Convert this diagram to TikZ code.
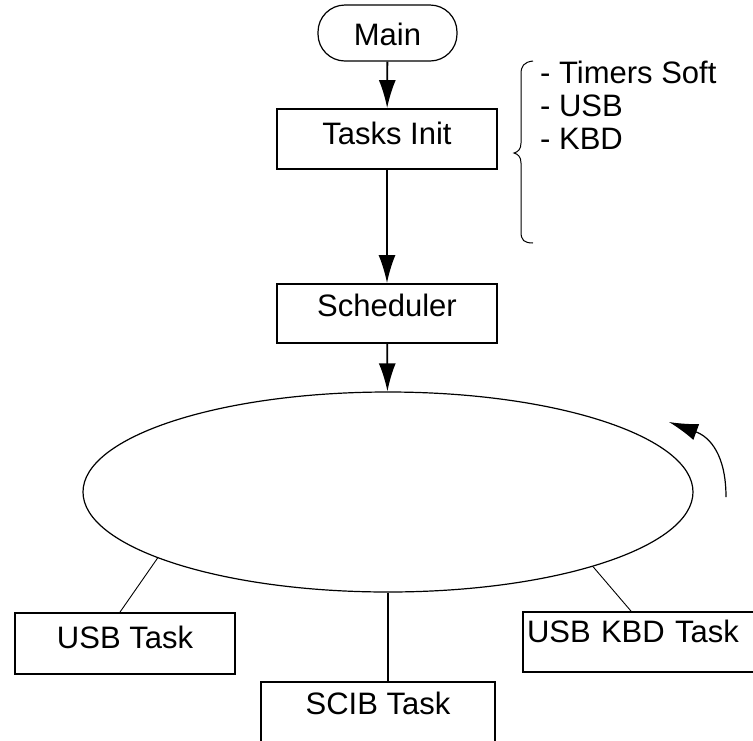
\documentclass[tikz,border=0pt]{standalone}
\usepackage{fontspec}
\setmainfont{Liberation Sans}
\usetikzlibrary{arrows.meta,shapes.geometric,calc}

\begin{document}
\begin{tikzpicture}[x=1pt,y=-1pt,
    blk/.style={draw,line width=1.8pt,inner xsep=0pt,inner ysep=0pt,font=\fontsize{31}{33}\selectfont},
    flow/.style={line width=1.8pt,-{Latex[length=28pt,width=17pt]}},
    link/.style={line width=0.9pt}]
    \useasboundingbox (0,0) rectangle (753,740);
    \clip (0,0) rectangle (753,740);

    \node[blk,line width=1.2pt,rounded corners=27pt,minimum width=139pt,text height=40pt,text depth=16pt] (main) at (387.5,33) {Main};
    \node[blk,minimum width=220pt,text height=35pt,text depth=25pt] (init) at (387,139) {Tasks Init};
    \node[blk,minimum width=220pt,text height=32pt,text depth=27pt] (sched) at (387,313.5) {Scheduler};
    \node[draw,ellipse,line width=1.2pt,minimum width=610pt,minimum height=200pt,inner sep=0pt] (ring) at (388,492) {};
    \node[blk,minimum width=220pt,text height=35pt,text depth=26pt] (usb) at (125,643.5) {USB Task};
    \node[blk,minimum width=234pt,text height=32pt,text depth=56pt] (scib) at (378,726) {SCIB Task};
    \node[blk,inner xsep=4pt,text width=226pt,align=left,text height=30pt,text depth=30pt] (kbd) at (640,642) {USB KBD Task};

    \draw[flow] (main) -- (init);
    \draw[flow] (init) -- (sched);
    \draw[flow] (sched) -- (ring);
    \draw[link] (ring.196.5) -- ([xshift=-5pt]usb.north);
    \draw[link] (ring.340.8) -- ([xshift=-9pt]kbd.north);
    \draw[line width=1.6pt] (ring.south) -- (ring.south |- scib.north);

    % rotation
    \coordinate (turn) at (726,497);
    \draw[line width=1.2pt,-{Latex[length=29pt,width=17pt]}] (turn) .. controls (726,455) and (710,437) .. (669,422);

    % init list
    \node[anchor=north west,inner sep=0pt,align=left,font=\fontsize{31}{33}\selectfont] (list) at (540,61) {- Timers Soft\\- USB\\- KBD};
    \draw[line width=1pt] (533,61) .. controls (524,62) and (521,66) .. (521,74) -- (521,143)
        .. controls (521,149) and (518,152) .. (514,153) .. controls (518,154) and (521,157) .. (521,163)
        -- (521,232) .. controls (521,240) and (524,243) .. (533,243);
\end{tikzpicture}
\end{document}
